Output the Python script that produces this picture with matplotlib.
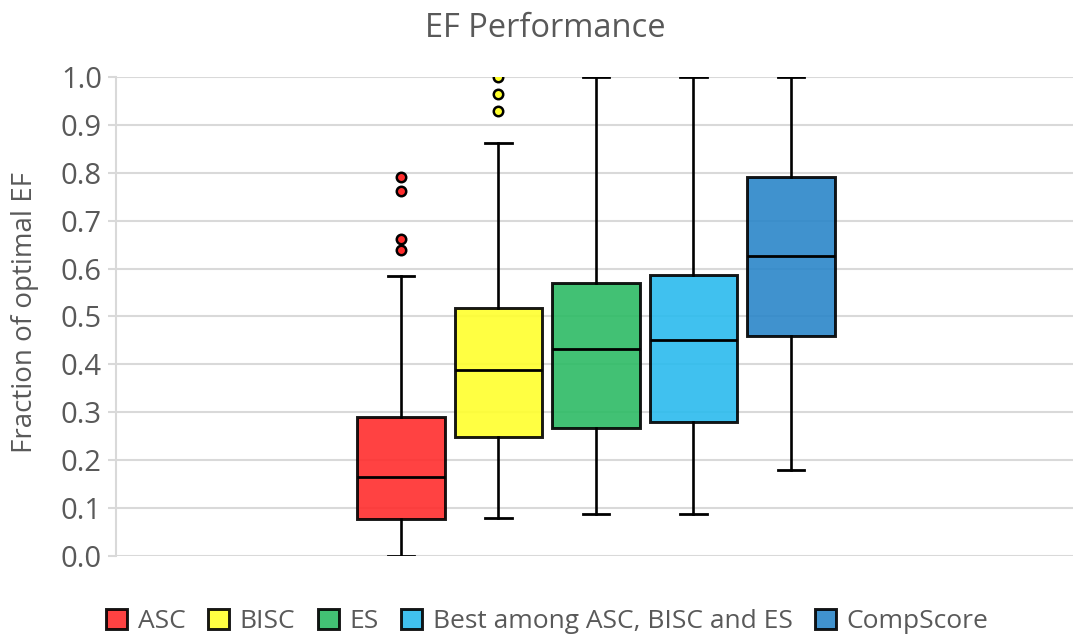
"""EF performance box plot (fraction of optimal EF per method)."""
import matplotlib

matplotlib.use("Agg")
import matplotlib.pyplot as plt
from matplotlib.patches import Patch

plt.rcParams["font.family"] = ["Open Sans", "DejaVu Sans"]

methods = ["ASC", "BISC", "ES", "Best among ASC, BISC and ES", "CompScore"]
colors = ["#ff2d2d", "#ffff2d", "#2dbb65", "#2bbbee", "#2b86c9"]

# five-number summaries
whis_lo = [0.000, 0.080, 0.088, 0.088, 0.180]
q1 = [0.077, 0.248, 0.267, 0.280, 0.459]
median = [0.164, 0.388, 0.432, 0.451, 0.626]
q3 = [0.289, 0.518, 0.570, 0.587, 0.791]
whis_hi = [0.585, 0.862, 1.000, 1.000, 1.000]
outliers = [
    [0.792, 0.761, 0.662, 0.639],
    [0.999, 0.965, 0.928],
    [],
    [],
    [],
]

grey = "#595959"
grid_col = "#d9d9d9"

fig = plt.figure(figsize=(10.73, 6.36), dpi=100)
ax = fig.add_axes([0.108, 0.126, 0.892, 0.753])

stats = []
for i, name in enumerate(methods):
    stats.append(dict(label=name, med=median[i], q1=q1[i], q3=q3[i],
                      whislo=whis_lo[i], whishi=whis_hi[i], fliers=outliers[i]))

positions = list(range(len(methods)))
bp = ax.bxp(stats, positions=positions, widths=0.9, capwidths=0.27,
            patch_artist=True, showfliers=True,
            boxprops=dict(linewidth=2.1, edgecolor="black"),
            medianprops=dict(color="black", linewidth=2.0),
            whiskerprops=dict(color="black", linewidth=1.9),
            capprops=dict(color="black", linewidth=2.0))
for box, c in zip(bp["boxes"], colors):
    box.set_facecolor(c)
    box.set_alpha(0.9)
    box.set_edgecolor("black")
    box.set_zorder(3)
for part in ("medians", "whiskers", "caps"):
    for ln in bp[part]:
        ln.set_zorder(4)
for fl, c in zip(bp["fliers"], colors):
    fl.set(marker="o", markerfacecolor=c, markeredgecolor="black",
           markersize=6.8, markeredgewidth=1.8, zorder=5)

ax.set_xlim(-2.923, 6.892)
ax.set_ylim(0, 1.0)
ax.set_yticks([i / 10 for i in range(11)])
ax.set_yticklabels([f"{i / 10:.1f}" for i in range(11)])
ax.set_xticks([])
ax.yaxis.grid(True, color=grid_col, linewidth=1.5, zorder=0)
ax.set_axisbelow(True)
for side in ("top", "right", "bottom"):
    ax.spines[side].set_visible(False)
ax.spines["left"].set_color(grid_col)
ax.spines["left"].set_linewidth(1.5)
ax.tick_params(axis="y", colors=grid_col, labelcolor=grey, labelsize=21,
               length=6, width=1.5, pad=4)
for lbl in ax.get_yticklabels():
    lbl.set_clip_on(False)

fig.text(25 / 1073, 0.509, "Fraction of optimal EF", rotation=90,
         ha="center", va="center", fontsize=20, color=grey)
fig.text(0.508, 0.955, "EF Performance", ha="center", va="center",
         fontsize=23.5, color=grey)

handles = [Patch(facecolor=c, edgecolor="black", linewidth=2.1, alpha=0.9)
           for c in colors]
fig.legend(handles, methods, loc="center", bbox_to_anchor=(0.51, 0.023),
           ncol=5, frameon=False, fontsize=19, labelcolor=grey,
           handlelength=0.8, handleheight=0.8, handletextpad=0.4,
           columnspacing=0.85)

fig.savefig("out.png", dpi=100)
